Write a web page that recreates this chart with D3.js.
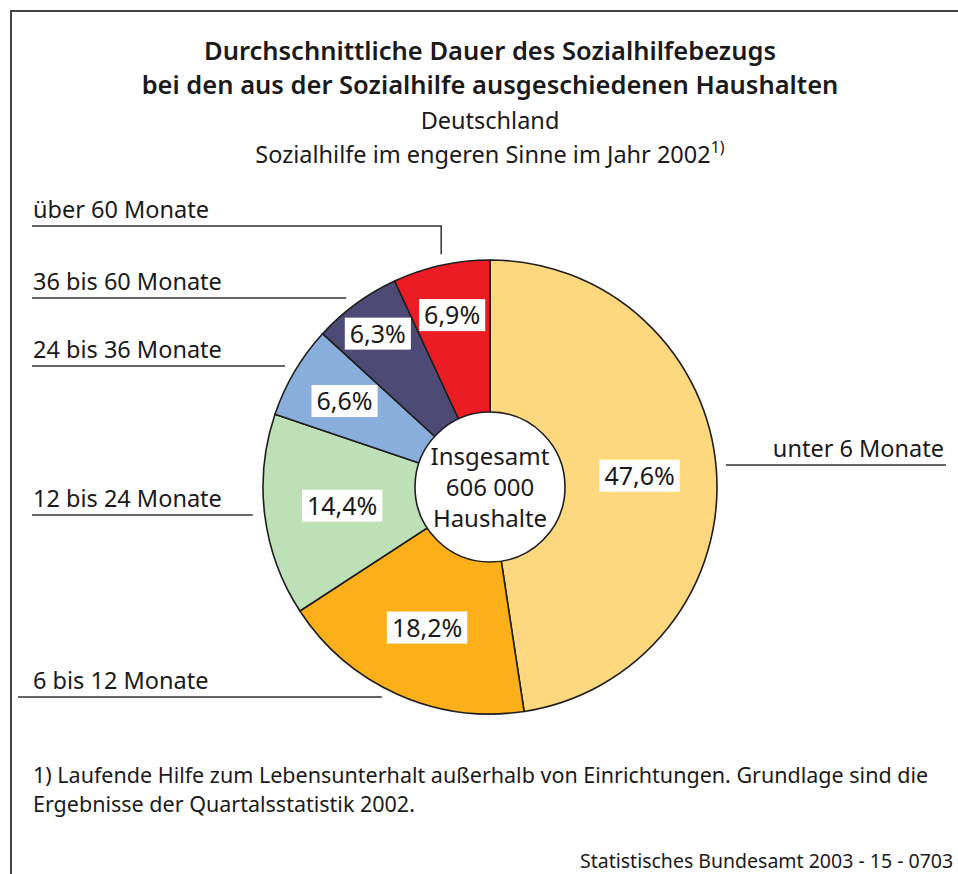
<!DOCTYPE html>
<html>
<head>
<meta charset="utf-8">
<script src="https://cdn.jsdelivr.net/npm/d3@7"></script>
<style>
  body { margin: 0; background: #fff; }
  svg { display: block; font-family: "Noto Sans", "Open Sans", sans-serif; }
</style>
</head>
<body>
<div id="chart"></div>
<script>
// Data
const categories = ["unter 6 Monate", "6 bis 12 Monate", "12 bis 24 Monate",
                    "24 bis 36 Monate", "36 bis 60 Monate", "über 60 Monate"];
const shares = [47.6, 18.2, 14.4, 6.6, 6.3, 6.9];
const colors = ["#fed87e", "#fbb01a", "#bee0b6", "#8aaedc", "#4e4a76", "#ec1c24"];
const titleLines = ["Durchschnittliche Dauer des Sozialhilfebezugs",
                    "bei den aus der Sozialhilfe ausgeschiedenen Haushalten"];
const centerLines = ["Insgesamt", "606 000", "Haushalte"];

(function() {
  const W = 958, H = 874;
  const cx = 490, cy = 487, outerR = 227, innerR = 75;

  // label layout (not data): radius of value box, y of the legend line, gap to pie
  const labelR = [150, 154, 149, 169, 190, 176];
  const legendY = [465, 697, 515, 366, 298, 226];
  const legendGap = [10, 22, 12, 13, 18, 11];

  const svg = d3.select("#chart").append("svg")
    .attr("width", W).attr("height", H);

  // frame
  svg.append("path")
    .attr("d", `M11,${H + 5} V11 H${W + 5}`)
    .attr("fill", "none").attr("stroke", "#444").attr("stroke-width", 2);

  // titles
  svg.selectAll(".title").data(titleLines).enter().append("text")
    .attr("x", 490).attr("y", (d, i) => 60 + i * 34)
    .attr("text-anchor", "middle")
    .attr("font-size", 25.5).attr("font-weight", 600).attr("fill", "#1a1a1a")
    .text(d => d);

  svg.append("text").attr("x", 490).attr("y", 129)
    .attr("text-anchor", "middle").attr("font-size", 23.5).attr("fill", "#1a1a1a")
    .text("Deutschland");
  const sub = svg.append("text").attr("x", 490).attr("y", 163)
    .attr("text-anchor", "middle").attr("font-size", 23.5).attr("fill", "#1a1a1a");
  sub.append("tspan").text("Sozialhilfe im engeren Sinne im Jahr 2002");
  sub.append("tspan").attr("font-size", 16).attr("dy", -10).text("1)");

  // pie
  const pie = d3.pie().sort(null).value(d => d);
  const arcs = pie(shares);
  const arc = d3.arc().innerRadius(0).outerRadius(outerR);

  const g = svg.append("g").attr("transform", `translate(${cx},${cy})`);
  g.selectAll("path.slice").data(arcs).enter().append("path")
    .attr("class", "slice")
    .attr("d", arc)
    .attr("fill", (d, i) => colors[i])
    .attr("stroke", "#1e1e1e").attr("stroke-width", 1.6)
    .attr("stroke-linejoin", "round");

  g.append("circle").attr("r", innerR)
    .attr("fill", "#fff").attr("stroke", "#1e1e1e").attr("stroke-width", 1.6);

  g.selectAll(".center").data(centerLines).enter().append("text")
    .attr("text-anchor", "middle")
    .attr("y", (d, i) => -22 + i * 31)
    .attr("font-size", 24).attr("fill", "#1a1a1a")
    .text(d => d);

  // value labels with white boxes
  const fmt = v => d3.format(".1f")(v).replace(".", ",") + "%";
  arcs.forEach((a, i) => {
    const ang = (a.startAngle + a.endAngle) / 2;
    const px = Math.sin(ang) * labelR[i], py = -Math.cos(ang) * labelR[i];
    const lg = g.append("g").attr("transform", `translate(${px},${py})`);
    const t = lg.append("text")
      .attr("text-anchor", "middle").attr("dy", "0.36em")
      .attr("font-size", 25).attr("fill", "#1a1a1a")
      .text(fmt(shares[i]));
    const bb = t.node().getBBox();
    lg.insert("rect", "text")
      .attr("x", bb.x - 5).attr("y", -16)
      .attr("width", bb.width + 10).attr("height", 32)
      .attr("fill", "#fff");
  });

  // legend labels with leader lines
  categories.forEach((c, i) => {
    const y = legendY[i], gap = legendGap[i];
    const dy = y - cy;
    const half = Math.sqrt(Math.max(0, outerR * outerR - dy * dy));
    if (i === 0) {
      // right side
      svg.append("line")
        .attr("x1", cx + half + gap).attr("x2", 946)
        .attr("y1", y).attr("y2", y)
        .attr("stroke", "#333").attr("stroke-width", 1.5);
      svg.append("text").attr("x", 944).attr("y", y - 8)
        .attr("text-anchor", "end").attr("font-size", 23.5).attr("fill", "#1a1a1a")
        .text(c);
    } else if (i === categories.length - 1) {
      // top leader: horizontal then down to the middle of the slice
      const a = arcs[i];
      const ang = (a.startAngle + a.endAngle) / 2;
      const vx = cx + Math.sin(ang) * outerR;
      const vy = cy - Math.cos(ang) * outerR;
      svg.append("path")
        .attr("d", `M32,${y} H${vx} V${vy - gap}`)
        .attr("fill", "none").attr("stroke", "#333").attr("stroke-width", 1.5);
      svg.append("text").attr("x", 33).attr("y", y - 8)
        .attr("font-size", 23.5).attr("fill", "#1a1a1a").text(c);
    } else {
      const x0 = i === 1 ? 18 : 32;
      svg.append("line")
        .attr("x1", x0).attr("x2", cx - half - gap)
        .attr("y1", y).attr("y2", y)
        .attr("stroke", "#333").attr("stroke-width", 1.5);
      svg.append("text").attr("x", 33).attr("y", y - 8)
        .attr("font-size", 23.5).attr("fill", "#1a1a1a").text(c);
    }
  });

  // footnote and source
  svg.append("text").attr("x", 33).attr("y", 783)
    .attr("font-size", 21.5).attr("fill", "#1a1a1a")
    .text("1) Laufende Hilfe zum Lebensunterhalt außerhalb von Einrichtungen. Grundlage sind die");
  svg.append("text").attr("x", 33).attr("y", 812)
    .attr("font-size", 21.5).attr("fill", "#1a1a1a")
    .text("Ergebnisse der Quartalsstatistik 2002.");
  svg.append("text").attr("x", 580).attr("y", 868)
    .attr("font-size", 19.5).attr("fill", "#1a1a1a")
    .text("Statistisches Bundesamt 2003 - 15 - 0703");
})();
</script>
</body>
</html>
